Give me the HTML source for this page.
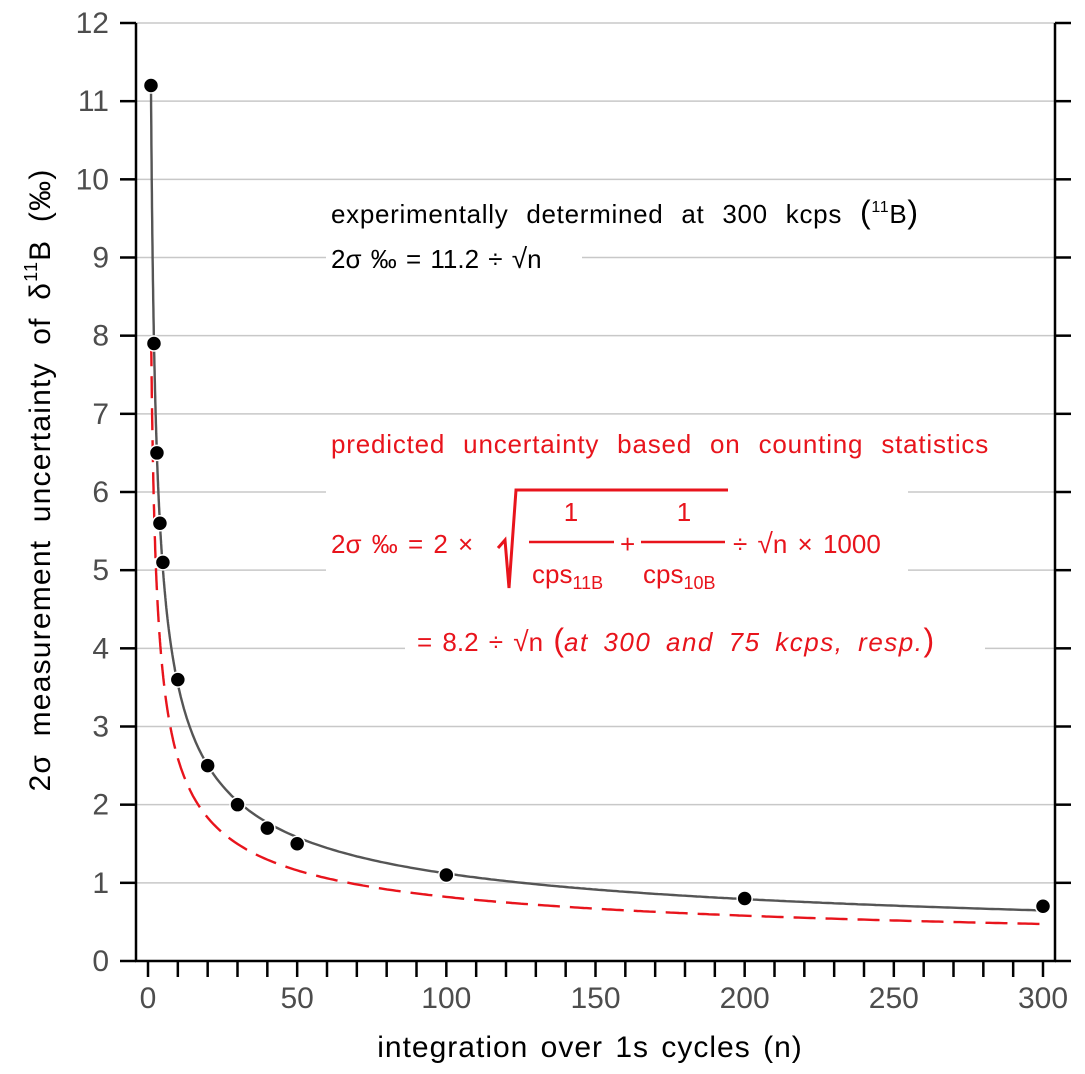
<!DOCTYPE html>
<html><head><meta charset="utf-8"><style>
body{margin:0;background:#fff}
svg{display:block;font-family:"Liberation Sans",sans-serif}
</style></head><body>
<svg id="chart" width="1085" height="1074" viewBox="0 0 1085 1074">
<g id="grid"></g>
<g id="masks">
<rect x="326" y="245" width="256" height="26" fill="#fff"/>
<rect x="326" y="480" width="582" height="100" fill="#fff"/>
<rect x="405" y="636" width="580" height="26" fill="#fff"/>
</g>
<g id="axes"></g>
<g id="series"></g>
<g font-size="26" fill="#000">
<text x="331" y="223" word-spacing="10" letter-spacing="0.7">experimentally determined at 300 kcps <tspan font-size="32">(</tspan><tspan font-size="16" dy="-11">11</tspan><tspan dy="11">B</tspan><tspan font-size="32">)</tspan></text>
<text x="331" y="268" word-spacing="2">2σ  ‰ = 11.2 ÷ <tspan font-size="28">√</tspan>n</text>
</g>
<g font-size="26" fill="#e8141c">
<text x="331" y="453" word-spacing="10" letter-spacing="0.8">predicted uncertainty based on counting statistics</text>
<text x="331" y="553" word-spacing="3">2σ  ‰ = 2 ×</text>
<polyline points="498,548 505,540 509,588 516,490 728,490" fill="none" stroke="#e8141c" stroke-width="3"/>
<text x="571" y="521" text-anchor="middle">1</text>
<line x1="529" y1="542" x2="614" y2="542" stroke="#e8141c" stroke-width="2.5"/>
<text x="532" y="583">cps<tspan font-size="18" dy="6">11B</tspan></text>
<text x="620" y="553">+</text>
<text x="684" y="521" text-anchor="middle">1</text>
<line x1="641" y1="542" x2="725" y2="542" stroke="#e8141c" stroke-width="2.5"/>
<text x="643" y="583">cps<tspan font-size="18" dy="6">10B</tspan></text>
<text x="733" y="553" word-spacing="3">÷ <tspan font-size="28">√</tspan>n × 1000</text>
<text x="417" y="651" word-spacing="3">= 8.2 ÷ <tspan font-size="28">√</tspan>n <tspan font-size="32">(</tspan><tspan font-style="italic" word-spacing="6" letter-spacing="1.5">at 300 and 75 kcps, resp.</tspan><tspan font-size="32">)</tspan></text>
</g>
<text x="590" y="1057" text-anchor="middle" font-size="30" letter-spacing="1" word-spacing="3">integration over 1s cycles (n)</text>
<text transform="translate(50,480) rotate(-90)" text-anchor="middle" font-size="30" letter-spacing="1.2" word-spacing="8">2σ  measurement uncertainty of  δ<tspan font-size="18" dy="-13">11</tspan><tspan dy="13">B  (‰)</tspan></text>
</svg>
<script>
const nValues=[1,2,3,4,5,10,20,30,40,50,100,200,300];
const measured=[11.2,7.9,6.5,5.6,5.1,3.6,2.5,2.0,1.7,1.5,1.1,0.8,0.7];
const expCoef=11.2, predCoef=8.2;
const yTicks=[0,1,2,3,4,5,6,7,8,9,10,11,12];
const xTicks=[0,50,100,150,200,250,300];
const NS="http://www.w3.org/2000/svg";
const X0=136,X1=1055,Y0=961,Y1=23;
const xs=v=>148+v*(1043-148)/300;
const ys=v=>961-v*(961-23)/12;
function mk(tag,attrs,parent){const e=document.createElementNS(NS,tag);for(const k in attrs)e.setAttribute(k,attrs[k]);parent.appendChild(e);return e;}
const grid=document.getElementById('grid'),axes=document.getElementById('axes'),ser=document.getElementById('series');
yTicks.forEach(v=>{
 if(v>0){const g=mk('line',{x1:X0,x2:X1,y1:ys(v),y2:ys(v),stroke:'#c8c8c8','stroke-width':1.5},grid);
 
 }
 const t=mk('line',{x1:X0-16,x2:X0,y1:ys(v),y2:ys(v),stroke:'#000','stroke-width':2.5},axes);
 
 
 const t2=mk('line',{x1:X1,x2:X1+16,y1:ys(v),y2:ys(v),stroke:'#000','stroke-width':2.5},axes);
 
 
 const l=mk('text',{x:X0-27,y:ys(v)+10,'text-anchor':'end','font-size':30,fill:'#4d4d4d'},axes);l.textContent=v;
 
 
});
for(let v=0;v<=300;v+=10){
 const t=mk('line',{x1:xs(v),x2:xs(v),y1:Y0,y2:Y0+16,stroke:'#000','stroke-width':2.5},axes);
 
 
}
xTicks.forEach(v=>{const l=mk('text',{x:xs(v),y:Y0+47,'text-anchor':'middle','font-size':30,fill:'#4d4d4d'},axes);l.textContent=v;
 
 });
[[X0,Y1,X0,Y0+1],[X1,Y1,X1,Y0+1],[X0-1,Y0,X1+1,Y0]].forEach(a=>{const e=mk('line',{x1:a[0],y1:a[1],x2:a[2],y2:a[3],stroke:'#000','stroke-width':2.5},axes);
 
 });
function curve(c,n0){let p=[];for(let n=n0;n<=300;n+=(n<10?0.05:1))p.push(xs(n).toFixed(1)+','+ys(c/Math.sqrt(n)).toFixed(1));return p.join(' ');}
const pr=mk('polyline',{points:curve(predCoef,1.08),fill:'none',stroke:'#e8141c','stroke-width':2.4,'stroke-dasharray':'22,10'},ser);


const ex=mk('polyline',{points:curve(expCoef,1),fill:'none',stroke:'#555','stroke-width':2.4},ser);


nValues.forEach((n,i)=>{const c=mk('circle',{cx:xs(n),cy:ys(measured[i]),r:7.5,fill:'#000',stroke:'#fff','stroke-width':1.5},ser);
 
 });
</script>
</body></html>
